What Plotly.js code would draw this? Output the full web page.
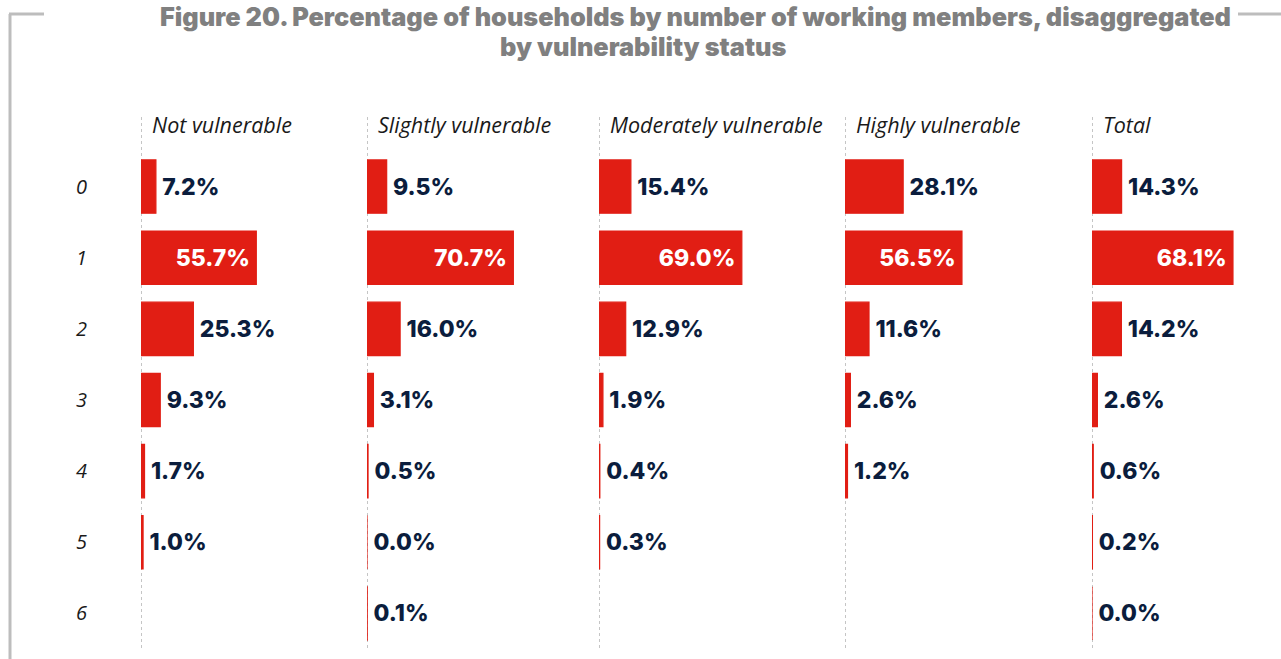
<!DOCTYPE html>
<html>
<head>
<meta charset="utf-8">
<script src="https://cdn.plot.ly/plotly-3.0.1.min.js"></script>
<style>html,body{margin:0;padding:0;background:#fff;}#chart{width:1281px;height:659px;}</style>
</head>
<body>
<div id="chart"></div>
<script>
const categories = ['0', '1', '2', '3', '4', '5', '6'];
const groups = ['Not vulnerable', 'Slightly vulnerable', 'Moderately vulnerable', 'Highly vulnerable', 'Total'];
const notVulnerable = [7.2, 55.7, 25.3, 9.3, 1.7, 1.0, null];
const slightlyVulnerable = [9.5, 70.7, 16.0, 3.1, 0.5, 0.0, 0.1];
const moderatelyVulnerable = [15.4, 69.0, 12.9, 1.9, 0.4, 0.3, null];
const highlyVulnerable = [28.1, 56.5, 11.6, 2.6, 1.2, null, null];
const total = [14.3, 68.1, 14.2, 2.6, 0.6, 0.2, 0.0];
const titleLine1 = 'Figure 20. Percentage of households by number of working members, disaggregated';
const titleLine2 = 'by vulnerability status';

const seriesList = [notVulnerable, slightlyVulnerable, moderatelyVulnerable, highlyVulnerable, total];

const W = 1281, H = 659;
const panelLeftPx = [141, 367, 599, 845, 1092];
const pxPerUnit = 2.07;
const panelWidthPx = 176;
const xMax = panelWidthPx / pxPerUnit;
const plotTopPx = 151, plotBottomPx = 649;

const RED = '#e11e14';
const NAVY = '#0b1d3d';
const valueFont = {family: 'Inter, "Open Sans", sans-serif', size: 23, weight: 800};

const traces = [];
const layout = {
  width: W, height: H,
  margin: {l: 0, r: 0, t: 0, b: 0},
  paper_bgcolor: '#fff', plot_bgcolor: 'rgba(0,0,0,0)',
  showlegend: false,
  bargap: 0.25,
  shapes: [], annotations: []
};

layout.yaxis = {
  type: 'category',
  categoryorder: 'array', categoryarray: categories,
  range: [categories.length - 0.5, -0.5],
  domain: [1 - plotBottomPx / H, 1 - plotTopPx / H],
  anchor: 'x',
  showgrid: false, zeroline: false, showline: false, ticks: '',
  ticklabelstandoff: 53,
  tickfont: {family: '"Open Sans", sans-serif', size: 20, style: 'italic', color: '#1a1a1a'},
  fixedrange: true
};

seriesList.forEach((vals, i) => {
  const axName = i === 0 ? 'x' : 'x' + (i + 1);
  const layoutKey = i === 0 ? 'xaxis' : 'xaxis' + (i + 1);
  layout[layoutKey] = {
    domain: [panelLeftPx[i] / W, (panelLeftPx[i] + panelWidthPx) / W],
    range: [0, xMax],
    anchor: 'y',
    showgrid: false, zeroline: false, showline: false,
    showticklabels: false, ticks: '', fixedrange: true
  };
  traces.push({
    type: 'bar', orientation: 'h',
    x: vals, y: categories,
    xaxis: axName, yaxis: 'y',
    marker: {color: RED, line: {color: RED, width: 1.2}},
    texttemplate: vals.map(v => v === null ? '' : '\u2009%{x:.1f}%\u2009'),
    textposition: vals.map(v => (v !== null && v > 40) ? 'inside' : 'outside'),
    insidetextanchor: 'end',
    constraintext: 'none',
    cliponaxis: false,
    insidetextfont: Object.assign({color: '#ffffff'}, valueFont),
    outsidetextfont: Object.assign({color: NAVY}, valueFont),
    hoverinfo: 'skip'
  });
  layout.shapes.push({
    type: 'line', xref: axName, yref: 'paper',
    x0: 0, x1: 0, y0: 1 - 648 / H, y1: 1 - 115 / H,
    line: {color: '#8c8c8c', width: 1, dash: 'dot'}, layer: 'below'
  });
  layout.annotations.push({
    text: groups[i], xref: axName, yref: 'paper',
    x: 0, xanchor: 'left', xshift: 9,
    y: 1 - 124 / H, yanchor: 'middle', showarrow: false,
    font: {family: '"Open Sans", sans-serif', size: 21.5, style: 'italic', color: '#1a1a1a'}
  });
});

// Frame lines
const frameColor = '#bdbdbd';
layout.shapes.push(
  {type: 'line', xref: 'paper', yref: 'paper', x0: 10 / W, x1: 10 / W, y0: 0, y1: 1 - 14 / H, line: {color: frameColor, width: 3}},
  {type: 'line', xref: 'paper', yref: 'paper', x0: 9 / W, x1: 44 / W, y0: 1 - 14 / H, y1: 1 - 14 / H, line: {color: frameColor, width: 3}},
  {type: 'line', xref: 'paper', yref: 'paper', x0: 1238 / W, x1: 1, y0: 1 - 14 / H, y1: 1 - 14 / H, line: {color: frameColor, width: 3}}
);

const titleFont = {family: 'Inter, "DejaVu Sans", sans-serif', size: 25.3, weight: 900, color: '#808080'};
layout.annotations.push({
  text: titleLine1, xref: 'paper', yref: 'paper',
  x: 695 / W, xanchor: 'center', y: 1 - 17 / H, yanchor: 'middle', showarrow: false,
  font: titleFont
}, {
  text: titleLine2, xref: 'paper', yref: 'paper',
  x: 643 / W, xanchor: 'center', y: 1 - 46 / H, yanchor: 'middle', showarrow: false,
  font: titleFont
});

Plotly.newPlot('chart', traces, layout, {displayModeBar: false, staticPlot: true});
</script>
</body>
</html>
